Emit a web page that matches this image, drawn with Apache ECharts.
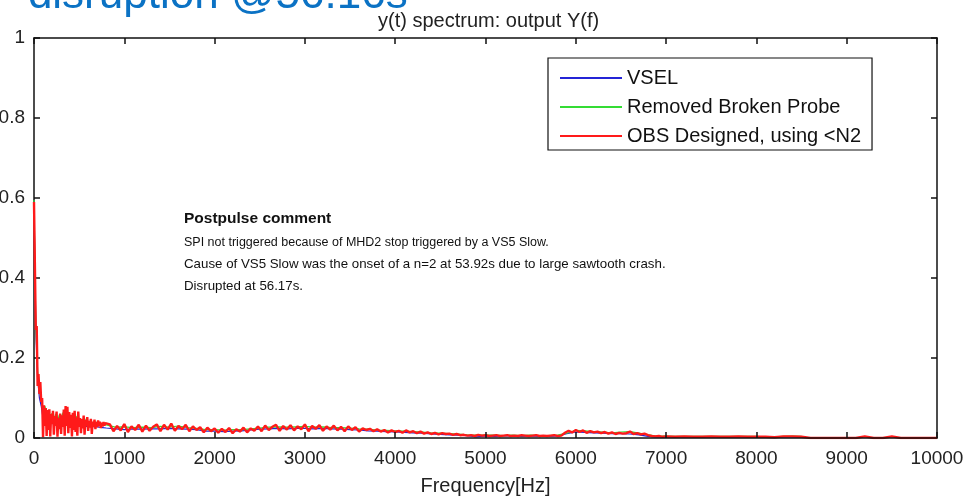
<!DOCTYPE html>
<html>
<head>
<meta charset="utf-8">
<script src="https://cdn.jsdelivr.net/npm/echarts@6/dist/echarts.min.js"></script>
<style>
  html, body { margin: 0; padding: 0; background: #fff; }
  #chart { width: 979px; height: 501px; }
</style>
</head>
<body>
<div id="chart"></div>
<script>
// Axis ticks
const xTicks = [0, 1000, 2000, 3000, 4000, 5000, 6000, 7000, 8000, 9000, 10000];
const yTicks = [0, 0.2, 0.4, 0.6, 0.8, 1];

// Frequency bins (Hz): each block is [start, step]
const redLowBins = [0, 10];
const redMidBins = [840, 40];
const redTailBins = [7100, 100];
const coarseLowBins = [0, 20];
const coarseMidBins = [900, 100];

// OBS Designed, using <N2  (|Y(f)|)
const obsLow = [
  0.59, 0.585, 0.27, 0.28, 0.13, 0.16, 0.11, 0.14, 0.09, 0.10,
  0.002, 0.082, 0.03, 0.075, 0.005, 0.07, 0.02, 0.072, 0.004, 0.06,
  0.035, 0.068, 0.008, 0.055, 0.03, 0.066, 0.003, 0.05, 0.022, 0.061,
  0.01, 0.057, 0.028, 0.071, 0.006, 0.08, 0.03, 0.078, 0.012, 0.065,
  0.025, 0.058, 0.004, 0.063, 0.02, 0.068, 0.015, 0.052, 0.006, 0.066,
  0.028, 0.05, 0.012, 0.047, 0.024, 0.056, 0.008, 0.045, 0.03, 0.052,
  0.018, 0.043, 0.026, 0.048, 0.01, 0.041, 0.028, 0.046, 0.022, 0.04,
  0.027, 0.044, 0.03, 0.041, 0.025, 0.038, 0.029, 0.04, 0.031, 0.037,
  0.032
];
const obsMid = [
  0.034, 0.017, 0.030, 0.019, 0.035, 0.015, 0.029, 0.020, 0.033, 0.016,
  0.031, 0.018, 0.028, 0.034, 0.017, 0.033, 0.021, 0.036, 0.018, 0.030,
  0.022, 0.033, 0.017, 0.029, 0.020, 0.027, 0.014, 0.026, 0.017, 0.024,
  0.013, 0.023, 0.015, 0.025, 0.012, 0.022, 0.016, 0.026, 0.014, 0.024,
  0.018, 0.029, 0.017, 0.031, 0.020, 0.028, 0.033, 0.018, 0.030, 0.021,
  0.032, 0.019, 0.029, 0.022, 0.034, 0.017, 0.030, 0.023, 0.032, 0.018,
  0.029, 0.021, 0.031, 0.019, 0.028, 0.017, 0.029, 0.020, 0.027, 0.016,
  0.024, 0.020, 0.023, 0.017, 0.022, 0.016, 0.020, 0.014, 0.019, 0.015,
  0.018, 0.013, 0.019, 0.014, 0.017, 0.012, 0.016, 0.011, 0.014, 0.010,
  0.013, 0.009, 0.012, 0.010, 0.011, 0.008, 0.010, 0.007, 0.008, 0.006,
  0.007, 0.005, 0.008, 0.006, 0.007, 0.005, 0.006, 0.007, 0.005, 0.006,
  0.007, 0.005, 0.006, 0.005, 0.007, 0.006, 0.005, 0.006, 0.007, 0.005,
  0.006, 0.005, 0.006, 0.007, 0.005, 0.006, 0.013, 0.018, 0.014, 0.020,
  0.015, 0.019, 0.013, 0.017, 0.014, 0.016, 0.012, 0.015, 0.011, 0.014,
  0.010, 0.013, 0.011, 0.012, 0.016, 0.010, 0.012, 0.009, 0.011, 0.007,
  0.005, 0.004, 0.005, 0.003, 0.004
];
const obsTail = [
  0.003, 0.004, 0.003, 0.003, 0.004, 0.003, 0.003, 0.004, 0.003, 0.003,
  0.003, 0.002, 0.004, 0.004, 0.003, 0, 0, 0, 0, 0,
  0, 0.004, 0, 0, 0.004, 0, 0, 0, 0, 0
];

// Removed Broken Probe
const probeLow = [
  0.595, 0.28, 0.168, 0.12, 0.095, 0.07, 0.08, 0.06, 0.07, 0.05,
  0.062, 0.045, 0.06, 0.04, 0.058, 0.05, 0.062, 0.07, 0.075, 0.06,
  0.055, 0.05, 0.06, 0.058, 0.05, 0.055, 0.045, 0.05, 0.04, 0.048,
  0.04, 0.044, 0.038, 0.042, 0.04, 0.038, 0.036, 0.037, 0.035, 0.034,
  0.033
];
const probeMid = [
  0.027, 0.028, 0.026, 0.027, 0.026, 0.029, 0.027, 0.030, 0.026, 0.024,
  0.021, 0.021, 0.020, 0.021, 0.021, 0.023, 0.025, 0.027, 0.028, 0.027,
  0.028, 0.029, 0.027, 0.028, 0.026, 0.026, 0.025, 0.023, 0.022, 0.020,
  0.019, 0.018, 0.017, 0.016, 0.015, 0.013, 0.012, 0.011, 0.010, 0.008,
  0.007, 0.007, 0.007, 0.006, 0.007, 0.006, 0.007, 0.006, 0.006, 0.007,
  0.012, 0.019, 0.018, 0.016, 0.015, 0.013, 0.015, 0.016, 0.012, 0.008,
  0.005, 0.005, 0.004, 0.004, 0.004, 0.004, 0.004, 0.004, 0.004, 0.004,
  0.004, 0.004, 0.003, 0.003, 0.004, 0.005, 0.004
];

// VSEL
const vselLow = [
  0.58, 0.27, 0.15, 0.10, 0.08, 0.05, 0.06, 0.04, 0.05, 0.035,
  0.045, 0.03, 0.04, 0.03, 0.04, 0.035, 0.045, 0.05, 0.05, 0.04,
  0.04, 0.035, 0.04, 0.04, 0.035, 0.038, 0.03, 0.035, 0.028, 0.033,
  0.03, 0.032, 0.028, 0.03, 0.029, 0.028, 0.027, 0.027, 0.026, 0.025,
  0.025
];
const vselMid = [
  0.023, 0.021, 0.023, 0.022, 0.023, 0.023, 0.024, 0.023, 0.022, 0.021,
  0.017, 0.017, 0.016, 0.017, 0.018, 0.020, 0.022, 0.023, 0.024, 0.023,
  0.024, 0.024, 0.023, 0.024, 0.023, 0.022, 0.021, 0.020, 0.018, 0.017,
  0.016, 0.015, 0.014, 0.013, 0.012, 0.010, 0.009, 0.008, 0.007, 0.006,
  0.003, 0.005, 0.004, 0.005, 0.005, 0.004, 0.005, 0.004, 0.004, 0.005,
  0.011, 0.015, 0.014, 0.013, 0.012, 0.011, 0.011, 0.010, 0.008, 0.004,
  0.003, 0.003, 0.003, 0.003, 0.003, 0.003, 0.003, 0.003, 0.003, 0.003,
  0.003, 0.002, 0.002, 0.003, 0.003, 0.003, 0.003
];

const seriesNames = ['VSEL', 'Removed Broken Probe', 'OBS Designed, using <N2'];
const seriesColors = ['#2424d6', '#34dc34', '#ff1a1a'];

const commentTitle = 'Postpulse comment';
const commentLines = [
  'SPI not triggered because of MHD2 stop triggered by a VS5 Slow.',
  'Cause of VS5 Slow was the onset of a n=2 at 53.92s due to large sawtooth crash.',
  'Disrupted at 56.17s.'
];

// Pair each value with the frequency of its bin
function binned(bins, values) {
  return values.map((v, i) => [bins[0] + i * bins[1], v]);
}

const vselData = binned(coarseLowBins, vselLow).concat(binned(coarseMidBins, vselMid));
const probeData = binned(coarseLowBins, probeLow).concat(binned(coarseMidBins, probeMid));
const obsData = binned(redLowBins, obsLow)
  .concat(binned(redMidBins, obsMid))
  .concat(binned(redTailBins, obsTail));

const FONT = '"Liberation Sans", Arial, Helvetica, sans-serif';
const AX = '#111';

const chart = echarts.init(document.getElementById('chart'), null, { renderer: 'canvas' });

const xBase = {
  type: 'value',
  min: xTicks[0],
  max: xTicks[xTicks.length - 1],
  interval: xTicks[1] - xTicks[0],
  z: 5,
  axisLine: { show: true, onZero: false, lineStyle: { color: AX, width: 1.5 } },
  axisTick: { show: true, inside: true, length: 6, lineStyle: { color: AX, width: 1.5 } },
  splitLine: { show: false }
};
const yBase = {
  type: 'value',
  min: yTicks[0],
  max: yTicks[yTicks.length - 1],
  interval: yTicks[1] - yTicks[0],
  axisLine: { show: true, onZero: false, lineStyle: { color: AX, width: 1.5 } },
  axisTick: { show: true, inside: true, length: 6, lineStyle: { color: AX, width: 1.5 } },
  splitLine: { show: false }
};

// Comment block: heading plus one text per line
const commentSizes = [12.5, 13.3, 13.3];
const commentTops = [236, 258, 280];
const commentGraphics = commentLines.map((line, i) => ({
  type: 'text', left: 184, top: commentTops[i], silent: true,
  style: { text: line, fill: '#111', font: commentSizes[i] + 'px ' + FONT }
}));

chart.setOption({
  animation: false,
  backgroundColor: '#ffffff',
  textStyle: { fontFamily: FONT },
  title: {
    text: 'y(t) spectrum: output Y(f)',
    left: 373,
    top: 6,
    textStyle: { fontFamily: FONT, fontSize: 20, fontWeight: 'normal', color: '#222' }
  },
  grid: { left: 34, right: 42, top: 38, bottom: 63, containLabel: false, outerBoundsMode: 'none' },
  legend: {
    data: seriesNames,
    orient: 'vertical',
    left: 548,
    top: 58,
    padding: [9, 11, 3, 12],
    itemGap: 7,
    itemWidth: 62,
    itemHeight: 2,
    icon: 'rect',
    backgroundColor: '#fff',
    borderColor: '#111',
    borderWidth: 1.2,
    borderRadius: 0,
    textStyle: { fontFamily: FONT, fontSize: 20, color: '#111', lineHeight: 22 }
  },
  xAxis: [
    Object.assign({}, xBase, {
      position: 'bottom',
      name: 'Frequency[Hz]',
      nameLocation: 'middle',
      nameGap: 38,
      nameTextStyle: { fontFamily: FONT, fontSize: 20, color: '#222' },
      axisLabel: { show: true, fontFamily: FONT, fontSize: 19, color: '#222', margin: 11,
        formatter: (v) => String(v) }
    }),
    Object.assign({}, xBase, { position: 'top', axisLabel: { show: false } })
  ],
  yAxis: [
    Object.assign({}, yBase, {
      position: 'left',
      axisLabel: { show: true, fontFamily: FONT, fontSize: 19, color: '#222', margin: 9,
        formatter: (v) => String(v) }
    }),
    Object.assign({}, yBase, { position: 'right', axisLabel: { show: false } })
  ],
  series: [
    { name: seriesNames[0], type: 'line', data: vselData, showSymbol: false, symbol: 'none',
      color: seriesColors[0], lineStyle: { width: 1.2, color: seriesColors[0] }, z: 2 },
    { name: seriesNames[1], type: 'line', data: probeData, showSymbol: false, symbol: 'none',
      color: seriesColors[1], lineStyle: { width: 1.2, color: seriesColors[1] }, z: 3 },
    { name: seriesNames[2], type: 'line', data: obsData, showSymbol: false, symbol: 'none',
      color: seriesColors[2], lineStyle: { width: 2.4, color: seriesColors[2] }, z: 4 }
  ],
  graphic: [
    {
      type: 'text', left: 1, top: -26, silent: true,
      style: { text: '- disruption @56.16s', fill: '#0b72c4', font: '44px ' + FONT }
    },
    {
      type: 'text', left: 184, top: 211, silent: true,
      style: { text: commentTitle, fill: '#111', font: 'bold 15.5px ' + FONT }
    }
  ].concat(commentGraphics)
});
</script>
</body>
</html>
